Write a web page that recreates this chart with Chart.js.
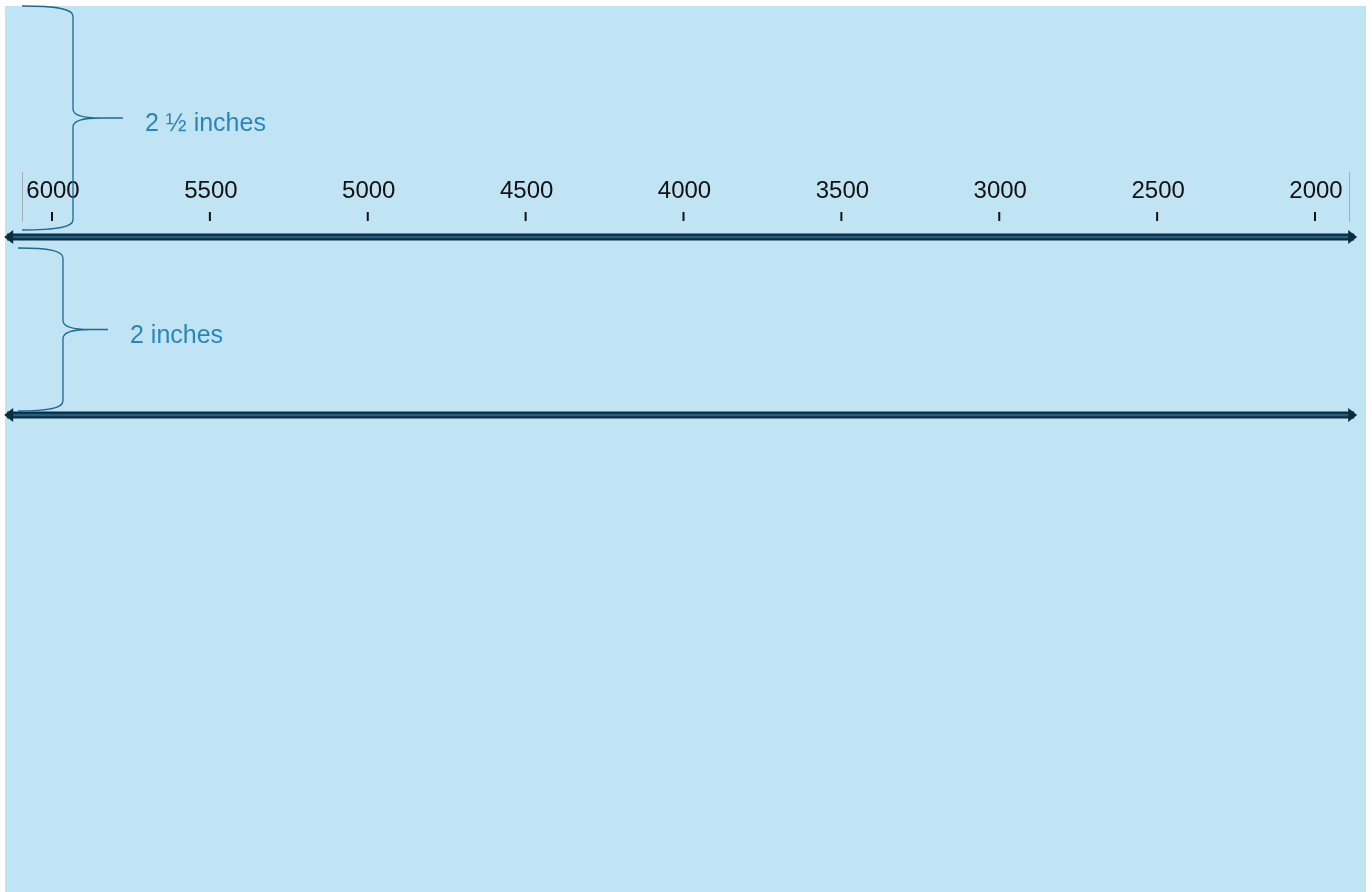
<!DOCTYPE html>
<html>
<head>
<meta charset="utf-8">
<script src="https://cdn.jsdelivr.net/npm/chart.js@4.4.1/dist/chart.umd.min.js"></script>
<style>
  html, body { margin: 0; padding: 0; background: #fff; overflow: hidden; }
  #sheet { position: absolute; left: 5px; top: 6px; width: 1361px; height: 886px; background: #c1e4f5; }
  #wrap { position: absolute; left: 0; top: 0; width: 1372px; height: 892px; }
</style>
</head>
<body>
<div id="sheet"></div>
<div id="wrap"><canvas id="c"></canvas></div>
<script>
// timeline values (years BC), left to right
const years = [6000, 5500, 5000, 4500, 4000, 3500, 3000, 2500, 2000];
const yearLabels = ["6000", "5500", "5000", "4500", "4000", "3500", "3000", "2500", "2000"];
// the two number lines: where they start/stop on the time axis, and their rows
const lineEnds = [6142, 1876];
const lineLevels = [237, 415];
// brace annotations
const braceLabels = ["2 \u00bd inches", "2 inches"];
const braceSpans = [[6, 230], [248, 411]];

const TICK_ROW = 216.5, LABEL_ROW = 198;
const DARK = "#0c2c41", STRIPE = "#245f80";

const lineSets = (color, width, order) => lineLevels.map((lv) => ({
  type: "line",
  data: lineEnds.map((x) => ({ x, y: lv })),
  borderColor: color, borderWidth: width, pointRadius: 0, order, clip: false,
}));

function drawBrace(ctx, xEnd, xSpine, xTip, yTop, yBot) {
  const yMid = (yTop + yBot) / 2, xc = xEnd + 0.7 * (xSpine - xEnd);
  ctx.beginPath();
  ctx.moveTo(xEnd, yTop);
  ctx.bezierCurveTo(xc, yTop, xSpine, yTop + 3, xSpine, yTop + 10);
  ctx.lineTo(xSpine, yMid - 9);
  ctx.bezierCurveTo(xSpine, yMid - 2, xSpine + 12, yMid, xSpine + 27, yMid);
  ctx.lineTo(xTip, yMid);
  ctx.moveTo(xSpine + 27, yMid);
  ctx.bezierCurveTo(xSpine + 12, yMid, xSpine, yMid + 2, xSpine, yMid + 9);
  ctx.lineTo(xSpine, yBot - 10);
  ctx.bezierCurveTo(xSpine, yBot - 3, xc, yBot, xEnd, yBot);
  ctx.stroke();
}

const decor = {
  id: "decor",
  afterDatasetsDraw(chart) {
    const { ctx, scales: { x, y }, chartArea: a } = chart;
    ctx.save();

    // arrow heads on both ends of each number line
    ctx.fillStyle = DARK;
    lineLevels.forEach((lv) => {
      const py = y.getPixelForValue(lv);
      lineEnds.forEach((v, i) => {
        const px = x.getPixelForValue(v), dir = i === 0 ? -1 : 1;
        const tip = px + dir * 3;
        ctx.beginPath();
        ctx.moveTo(tip, py);
        ctx.lineTo(tip - dir * 9, py - 7);
        ctx.lineTo(tip - dir * 9, py + 7);
        ctx.closePath();
        ctx.fill();
      });
    });

    // year labels
    ctx.fillStyle = "#111";
    ctx.font = "24px 'Liberation Sans', Arial, sans-serif";
    ctx.textAlign = "center";
    ctx.textBaseline = "alphabetic";
    years.forEach((v, i) => ctx.fillText(yearLabels[i], x.getPixelForValue(v) + 1, y.getPixelForValue(LABEL_ROW)));

    // thin text-box edges around the label row
    ctx.strokeStyle = "#a3aeb6"; ctx.lineWidth = 1;
    [a.left + 22.5, a.left + 1349.5].forEach((bx) => {
      ctx.beginPath(); ctx.moveTo(bx, y.getPixelForValue(172)); ctx.lineTo(bx, y.getPixelForValue(222)); ctx.stroke();
    });

    // braces
    ctx.strokeStyle = "#1e6990"; ctx.lineWidth = 1.3;
    ctx.fillStyle = "#2a86b9";
    ctx.font = "25px 'Liberation Sans', Arial, sans-serif";
    ctx.textAlign = "left";
    const shape = [[22, 73, 123], [18, 63, 108]];
    braceSpans.forEach(([t, b], i) => {
      const [e, s, tipX] = shape[i].map((d) => a.left + d);
      const yt = y.getPixelForValue(t), yb = y.getPixelForValue(b);
      drawBrace(ctx, e, s, tipX, yt, yb);
      ctx.fillText(braceLabels[i], tipX + 22, (yt + yb) / 2 + 13);
    });

    ctx.restore();
  },
};

new Chart(document.getElementById("c"), {
  type: "scatter",
  data: {
    datasets: [
      {
        data: years.map((v) => ({ x: v, y: TICK_ROW })),
        pointStyle: "line", rotation: 90, pointRadius: 4.5, pointHoverRadius: 4.5,
        borderColor: "#111", borderWidth: 2, order: 1,
      },
      ...lineSets(STRIPE, 2.5, 2),
      ...lineSets(DARK, 7, 3),
    ],
  },
  options: {
    responsive: true, maintainAspectRatio: false, animation: false,
    layout: { padding: 0, autoPadding: false },
    events: [],
    plugins: { legend: { display: false }, tooltip: { enabled: false } },
    scales: {
      x: { type: "linear", display: false, reverse: true, min: 1819.5, max: 6164.7 },
      y: { type: "linear", display: false, reverse: true, min: 0, max: 892 },
    },
  },
  plugins: [decor],
});
</script>
</body>
</html>
